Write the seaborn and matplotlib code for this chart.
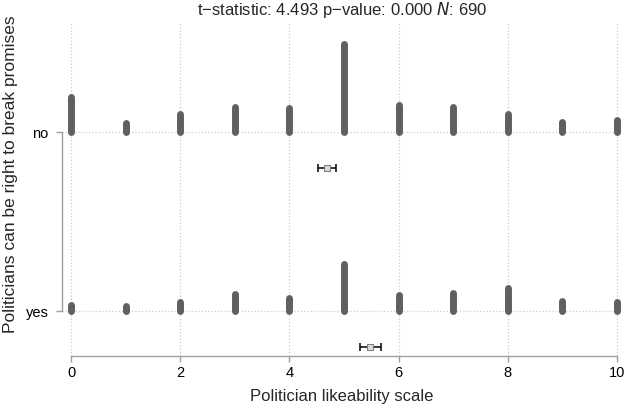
import matplotlib
matplotlib.use("Agg")
import matplotlib.pyplot as plt
import seaborn as sns
import pandas as pd
import numpy as np

# %%
# Data
scale = list(range(11))                       # politician likeability scale 0..10
groups = ["no", "yes"]
counts_no = [52, 13, 27, 37, 36, 132, 40, 37, 27, 15, 18]
counts_yes = [9, 7, 13, 25, 19, 70, 24, 27, 34, 15, 13]
means = [4.69, 5.48]
ci_low = [4.52, 5.29]
ci_high = [4.85, 5.68]
title_stats = {"t": "4.493", "p": "0.000", "N": "690"}

# %%
sns.set_theme(style="white")
plt.rcParams["font.family"] = ["Liberation Sans", "DejaVu Sans"]

fig = plt.figure(figsize=(6.28, 4.09), dpi=100)
ax = fig.add_axes([62 / 628, 53 / 409, 560 / 628, 334 / 409])

px_per_count = 1 / 268   # bar height per observation (y units)
offset = 0.2             # mean marker below the baseline

for i, counts in enumerate([counts_no, counts_yes]):
    c = np.array(counts)
    ax.vlines(scale, i, i - c * px_per_count, color="#606060",
              linewidth=5, capstyle="round", zorder=3)

df_means = pd.DataFrame({"group": groups, "mean": means,
                         "y": [i + offset for i in range(len(groups))]})
ax.errorbar(df_means["mean"], df_means["y"],
            xerr=[np.array(means) - np.array(ci_low), np.array(ci_high) - np.array(means)],
            fmt="none", ecolor="black", elinewidth=1.1, capsize=3, capthick=1.1, zorder=4)
sns.scatterplot(data=df_means, x="mean", y="y", marker="s", s=22, color="#d9d9d9",
                edgecolor="#808080", linewidth=0.8, ax=ax, zorder=5, legend=False)

ax.set_xlim(-0.165, 10.092)
ax.set_ylim(1.251, -0.615)
ax.set_xticks(range(0, 11, 2))
ax.set_yticks([0, 1])
ax.set_yticklabels(groups)

ax.grid(True, linestyle=":", color="#cccccc", linewidth=0.9)
for s in ["top", "right"]:
    ax.spines[s].set_visible(False)
for s in ["left", "bottom"]:
    ax.spines[s].set_color("#a0a0a0")
    ax.spines[s].set_linewidth(1.0)
ax.spines["left"].set_bounds(0, 1)
ax.spines["bottom"].set_bounds(0, 10)
ax.tick_params(axis="both", which="both", direction="out", length=4.3, width=1,
               color="#a0a0a0", labelsize=10.5, labelcolor="black")
ax.tick_params(axis="x", pad=3.2, bottom=True)
ax.tick_params(axis="y", pad=5.5, left=True)

ax.set_xlabel("Politician likeability scale", fontsize=12, labelpad=6)
ax.set_ylabel("Politicians can be right to break promises", fontsize=12.5)
ax.yaxis.set_label_coords(-0.078, 0.545)

ax.set_title("t\u2212statistic: %s p\u2212value: %s $\\it{N}$: %s"
             % (title_stats["t"], title_stats["p"], title_stats["N"]),
             fontsize=12, pad=5)

fig.savefig("out.png", dpi=100)
